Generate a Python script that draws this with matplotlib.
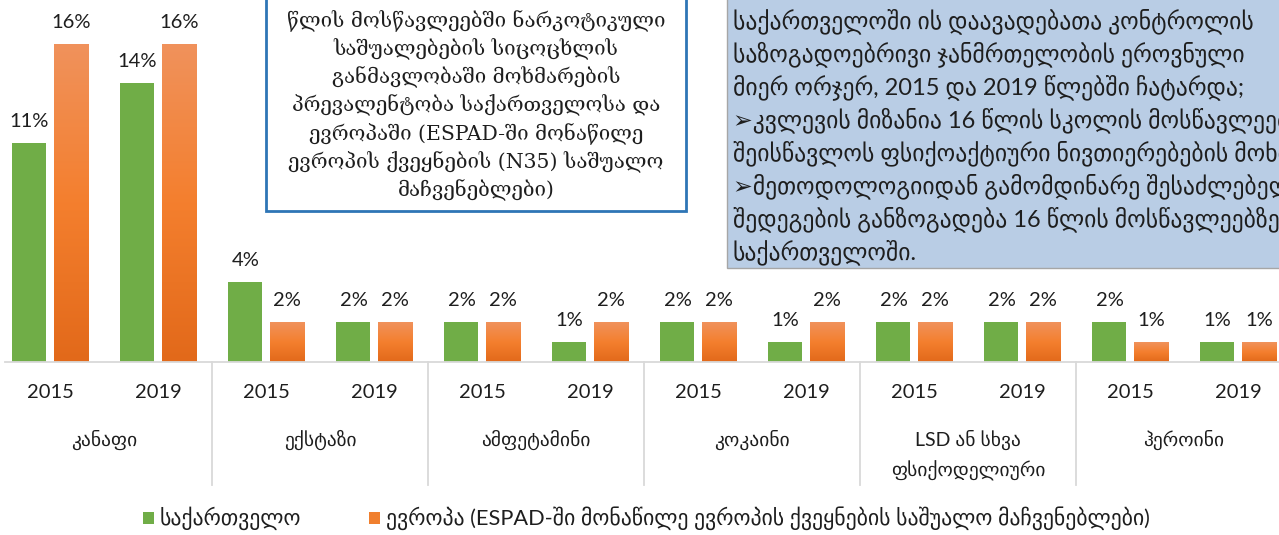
import matplotlib
matplotlib.use("Agg")
import matplotlib.pyplot as plt
import numpy as np
from matplotlib.colors import LinearSegmentedColormap
from matplotlib.patches import Rectangle

# ---------------- data ----------------
drugs = ["კანაფი", "ექსტაზი", "ამფეტამინი", "კოკაინი", "LSD ან სხვა\nფსიქოდელიური", "ჰეროინი"]
years = ["2015", "2019"]
georgia = [11, 14, 4, 2, 2, 1, 2, 1, 2, 2, 2, 1]
europe = [16, 16, 2, 2, 2, 2, 2, 2, 2, 2, 1, 1]
series_names = ["საქართველო", "ევროპა (ESPAD-ში მონაწილე ევროპის ქვეყნების საშუალო მაჩვენებლები)"]

box1_lines = [
    "წლის მოსწავლეებში ნარკოტიკული",
    "საშუალებების სიცოცხლის",
    "განმავლობაში მოხმარების",
    "პრევალენტობა საქართველოსა და",
    "ევროპაში (ESPAD-ში მონაწილე",
    "ევროპის ქვეყნების (N35) საშუალო",
    "მაჩვენებლები)",
]
box2_lines = [
    "საქართველოში ის დაავადებათა კონტროლის",
    "საზოგადოებრივი ჯანმრთელობის ეროვნული",
    "მიერ ორჯერ, 2015 და 2019 წლებში ჩატარდა;",
    "➢კვლევის მიზანია 16 წლის სკოლის მოსწავლეების",
    "შეისწავლოს ფსიქოაქტიური ნივთიერებების მოხმარება",
    "➢მეთოდოლოგიიდან გამომდინარე შესაძლებელია",
    "შედეგების განზოგადება 16 წლის მოსწავლეებზე",
    "საქართველოში.",
]

# ---------------- figure ----------------
W, H = 1279, 535
fig = plt.figure(figsize=(W / 100, H / 100), dpi=100)
latin = ["Lato", "DejaVu Sans"]
txt = "#1E1E1E"

def fx(px):
    return px / W

def fy(py):
    return 1 - py / H

base_px = 362
ax = fig.add_axes([fx(-4), fy(base_px), fx(1296), base_px / H])
ax.axis("off")

x = np.arange(len(georgia))
bw = 0.315
green = "#70AD47"
orange = "#F07F2E"
gbars = ax.bar(x - 0.19, georgia, bw, color=green, zorder=2)
obars = ax.bar(x + 0.195, europe, bw, color=orange, zorder=2)

cmap = LinearSegmentedColormap.from_list("org", ["#E2691A", "#F47F2E", "#F0925C"])
grad = np.linspace(0, 1, 256).reshape(-1, 1)
for b in obars:
    x0, w, h = b.get_x(), b.get_width(), b.get_height()
    im = ax.imshow(grad, cmap=cmap, origin="lower", aspect="auto",
                   extent=[x0, x0 + w, 0, h], zorder=3)
    im.set_clip_path(b)
ax.set_xlim(-0.5, len(georgia) - 0.5)
ax.set_ylim(0, base_px / 19.9)

for bars, vals in ((gbars, georgia), (obars, europe)):
    for b, v in zip(bars, vals):
        ax.text(b.get_x() + b.get_width() / 2, v + 0.65, f"{v}%", ha="center", va="bottom",
                fontsize=14.5, family=latin, color=txt)

# axis line
fig.add_artist(plt.Line2D([fx(5), fx(1290)], [fy(362), fy(362)], color="#D9D9D9", lw=1.3))

# category labels
def px_of(xd):
    return -4 + (xd + 0.5) * 108

for i in range(len(georgia)):
    fig.text(fx(px_of(i)), fy(392), years[i % 2], ha="center", va="center",
             fontsize=14.5, family=latin, color=txt)
for j, d in enumerate(drugs):
    for k, ln in enumerate(d.split("\n")):
        fig.text(fx(px_of(2 * j + 0.5)), fy(440 + 31 * k), ln, ha="center", va="center",
                 fontsize=14, family=latin, color=txt)
for j in range(1, len(drugs)):
    xp = px_of(2 * j - 0.5)
    fig.add_artist(plt.Line2D([fx(xp), fx(xp)], [fy(362), fy(485)], color="#D9D9D9", lw=1.3))

# text box 1
fig.add_artist(Rectangle((fx(266), fy(211)), fx(420), 211 / H + 0.05, transform=fig.transFigure,
                         facecolor="white", edgecolor="#2E75B6", lw=2, zorder=5))
for k, ln in enumerate(box1_lines):
    fig.text(fx(476), fy(21 + 28.2 * k), ln, ha="center", va="center", fontsize=14.7,
             family=["DejaVu Serif"], color=txt, zorder=6)

# text box 2
fig.add_artist(Rectangle((fx(727), fy(268)), fx(600), 268 / H + 0.05, transform=fig.transFigure,
                         facecolor="#B9CDE5", edgecolor="#A6A6A6", lw=1, zorder=5))
for k, ln in enumerate(box2_lines):
    fig.text(fx(733), fy(21 + 33 * k), ln, ha="left", va="center", fontsize=17,
             family=latin, color=txt, zorder=6)

# legend (manual)
leg_y = 518
for (sq_x, name, col) in ((143, series_names[0], green), (369, series_names[1], orange)):
    fig.add_artist(Rectangle((fx(sq_x), fy(leg_y + 6)), fx(11), 12 / H, transform=fig.transFigure,
                             facecolor=col, edgecolor="none"))
    fig.text(fx(sq_x + 17), fy(leg_y), name, ha="left", va="center", fontsize=15.7,
             family=latin, color=txt)

fig.savefig("out.png", dpi=100)
